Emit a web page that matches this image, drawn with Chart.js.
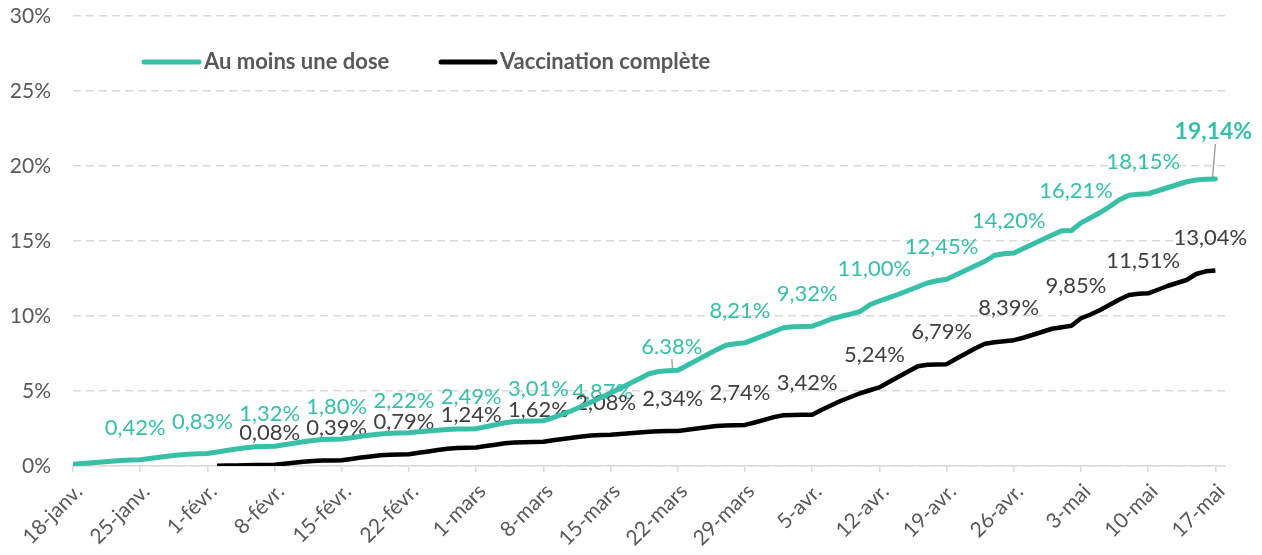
<!DOCTYPE html>
<html lang="fr">
<head>
  <meta charset="UTF-8">
  <title>Vaccination</title>
  <script src="https://cdn.jsdelivr.net/npm/chart.js"></script>
  <style>
    body { margin: 0; background: #fff; }
    #wrap { width: 1262px; height: 555px; }
  </style>
</head>
<body>
  <div id="wrap"><canvas id="chart"></canvas></div>

  <script>
    // axe des dates : jour 0 = 18 janvier, un repère par semaine
    const tickDays = [0, 7, 14, 21, 28, 35, 42, 49, 56, 63, 70, 77, 84, 91, 98, 105, 112, 119];
    const tickLabels = ['18-janv.', '25-janv.', '1-févr.', '8-févr.', '15-févr.', '22-févr.', '1-mars', '8-mars',
      '15-mars', '22-mars', '29-mars', '5-avr.', '12-avr.', '19-avr.', '26-avr.', '3-mai', '10-mai', '17-mai'];

    // au moins une dose, en %, du 18 janv. (jour 0) au 17 mai
    const firstDoseStart = 0;
    const firstDose = [
      0.12, 0.17, 0.22, 0.27, 0.32, 0.37, 0.40,
      0.42, 0.50, 0.58, 0.66, 0.74, 0.79, 0.81,
      0.83, 0.93, 1.03, 1.13, 1.22, 1.28, 1.30,
      1.32, 1.42, 1.52, 1.61, 1.70, 1.76, 1.78,
      1.80, 1.89, 1.98, 2.06, 2.14, 2.19, 2.20,
      2.22, 2.28, 2.33, 2.38, 2.43, 2.46, 2.47,
      2.49, 2.62, 2.75, 2.88, 2.97, 2.99, 3.00,
      3.01, 3.22, 3.45, 3.70, 3.98, 4.27, 4.57,
      4.87, 5.18, 5.50, 5.82, 6.15, 6.30, 6.35,
      6.38, 6.72, 7.06, 7.40, 7.74, 8.05, 8.15,
      8.21, 8.46, 8.71, 8.96, 9.22, 9.28, 9.30,
      9.32, 9.55, 9.80, 9.98, 10.12, 10.30, 10.75,
      11.00, 11.22, 11.45, 11.70, 11.95, 12.20, 12.35,
      12.45, 12.75, 13.05, 13.35, 13.65, 14.05, 14.15,
      14.20, 14.50, 14.80, 15.10, 15.40, 15.68, 15.70,
      16.21, 16.55, 16.90, 17.30, 17.75, 18.05, 18.12,
      18.15, 18.35, 18.55, 18.75, 18.95, 19.07, 19.12,
      19.14
    ];

    // vaccination complète, en %, à partir du 2 févr. (jour 15)
    const fullStart = 15;
    const fullVacc = [
      0.02, 0.03, 0.04, 0.05, 0.06, 0.07,
      0.08, 0.15, 0.22, 0.28, 0.33, 0.36, 0.37,
      0.39, 0.47, 0.56, 0.64, 0.71, 0.75, 0.77,
      0.79, 0.88, 0.97, 1.06, 1.15, 1.20, 1.22,
      1.24, 1.33, 1.42, 1.51, 1.57, 1.59, 1.60,
      1.62, 1.71, 1.80, 1.89, 1.97, 2.03, 2.06,
      2.08, 2.13, 2.18, 2.23, 2.28, 2.31, 2.33,
      2.34, 2.42, 2.50, 2.58, 2.66, 2.70, 2.72,
      2.74, 2.90, 3.08, 3.26, 3.38, 3.40, 3.41,
      3.42, 3.75, 4.05, 4.35, 4.60, 4.85, 5.05,
      5.24, 5.60, 5.95, 6.30, 6.65, 6.75, 6.77,
      6.79, 7.15, 7.50, 7.85, 8.15, 8.25, 8.32,
      8.39, 8.55, 8.75, 8.95, 9.15, 9.25, 9.35,
      9.85, 10.10, 10.40, 10.75, 11.10, 11.40, 11.48,
      11.51, 11.75, 12.00, 12.20, 12.40, 12.80, 12.98,
      13.04
    ];

    // étiquettes hebdomadaires
    const firstDoseLabelDays = [7, 14, 21, 28, 35, 42, 49, 56, 63, 70, 77, 84, 91, 98, 105, 112, 119];
    const firstDoseLabels = ['0,42%', '0,83%', '1,32%', '1,80%', '2,22%', '2,49%', '3,01%', '4,87%', '6.38%',
      '8,21%', '9,32%', '11,00%', '12,45%', '14,20%', '16,21%', '18,15%', '19,14%'];
    const fullLabelDays = [21, 28, 35, 42, 49, 56, 63, 70, 77, 84, 91, 98, 105, 112, 119];
    const fullLabels = ['0,08%', '0,39%', '0,79%', '1,24%', '1,62%', '2,08%', '2,34%', '2,74%', '3,42%',
      '5,24%', '6,79%', '8,39%', '9,85%', '11,51%', '13,04%'];

    const GREEN = '#38bfa7';
    const TEXT = '#595959';
    const FONT = 'Lato, "Open Sans", sans-serif';

    // décalages des étiquettes (px) quand elles ne sont pas juste au-dessus
    const labelShift = { dx: -5, dy: -32 };
    const greenLabelOverrides = { '4,87%': [-8, -1], '6.38%': [-6, -23, true], '19,14%': [-2, -47, true] };

    const labelsPlugin = {
      id: 'pointLabels',
      beforeDatasetsDraw(chart) {
        const ctx = chart.ctx;
        ctx.save();
        ctx.textAlign = 'center';
        ctx.textBaseline = 'middle';
        const sets = [
          { meta: chart.getDatasetMeta(0), start: firstDoseStart, days: firstDoseLabelDays, texts: firstDoseLabels, color: GREEN, over: greenLabelOverrides },
          { meta: chart.getDatasetMeta(1), start: fullStart, days: fullLabelDays, texts: fullLabels, color: '#404040', over: {} }
        ];
        sets.forEach(s => {
          s.days.forEach((d, i) => {
            const pt = s.meta.data[d - s.start];
            if (!pt) return;
            const txt = s.texts[i];
            const o = s.over[txt] || [labelShift.dx, labelShift.dy];
            const bold = txt === '19,14%';
            ctx.font = (bold ? 'bold 23px ' : '22px ') + FONT;
            ctx.fillStyle = s.color;
            const tx = pt.x + o[0], ty = pt.y + o[1];
            if (o[2]) {
              ctx.strokeStyle = '#a6a6a6';
              ctx.lineWidth = 1.5;
              ctx.beginPath();
              ctx.moveTo(tx + (bold ? 2 : 0), ty + 12);
              ctx.lineTo(pt.x - (bold ? 3 : 5), pt.y);
              ctx.stroke();
            }
            ctx.fillText(txt, tx, ty);
          });
        });
        ctx.restore();
      }
    };

    const legendPlugin = {
      id: 'topLegend',
      afterDraw(chart) {
        const ctx = chart.ctx;
        const items = [
          { x: 144, w: 55, ds: chart.data.datasets[0] },
          { x: 441, w: 54, ds: chart.data.datasets[1] }
        ];
        ctx.save();
        ctx.font = 'bold 22px ' + FONT;
        ctx.textBaseline = 'middle';
        ctx.textAlign = 'left';
        items.forEach(it => {
          ctx.strokeStyle = it.ds.borderColor;
          ctx.lineWidth = 5;
          ctx.lineCap = 'round';
          ctx.beginPath();
          ctx.moveTo(it.x, 62);
          ctx.lineTo(it.x + it.w, 62);
          ctx.stroke();
          ctx.fillStyle = TEXT;
          ctx.fillText(it.ds.label, it.x + it.w + 5, 62);
        });
        ctx.restore();
      }
    };

    new Chart(document.getElementById('chart'), {
      type: 'line',
      data: {
        datasets: [{
          label: 'Au moins une dose',
          data: firstDose.map((v, i) => ({ x: firstDoseStart + i, y: v })),
          borderColor: GREEN,
          borderWidth: 5,
          pointRadius: 0,
          tension: 0,
          borderJoinStyle: 'round',
          borderCapStyle: 'round'
        }, {
          label: 'Vaccination complète',
          data: fullVacc.map((v, i) => ({ x: fullStart + i, y: v })),
          borderColor: '#000000',
          borderWidth: 4.5,
          pointRadius: 0,
          tension: 0,
          borderJoinStyle: 'round',
          borderCapStyle: 'butt'
        }]
      },
      options: {
        responsive: true,
        maintainAspectRatio: false,
        animation: false,
        layout: { padding: { top: 0, right: 37, left: 0, bottom: 0 } },
        plugins: {
          legend: { display: false },
          tooltip: { enabled: false }
        },
        scales: {
          x: {
            type: 'linear',
            min: 0,
            max: 120,
            afterBuildTicks: scale => { scale.ticks = tickDays.map(v => ({ value: v })); },
            afterFit: scale => { scale.height = 89; },
            ticks: {
              autoSkip: false,
              minRotation: 45,
              maxRotation: 45,
              padding: 7,
              labelOffset: 6,
              color: TEXT,
              font: { family: FONT, size: 21 },
              callback: (v) => tickLabels[tickDays.indexOf(v)]
            },
            grid: { drawOnChartArea: false, drawTicks: true, tickLength: 6, color: '#d9d9d9', lineWidth: 1.5 },
            border: { display: true, color: '#d9d9d9', width: 1.5 }
          },
          y: {
            min: 0,
            max: 30,
            afterFit: scale => { scale.width = 73; scale.paddingTop = 16; scale.paddingBottom = 0; },
            ticks: {
              stepSize: 5,
              padding: 22,
              color: TEXT,
              font: { family: FONT, size: 21 },
              callback: v => v + '%'
            },
            grid: { color: '#d9d9d9', lineWidth: 1.5, drawTicks: false },
            border: { display: false, dash: [8, 5] }
          }
        }
      },
      plugins: [labelsPlugin, legendPlugin]
    });
  </script>
</body>
</html>
